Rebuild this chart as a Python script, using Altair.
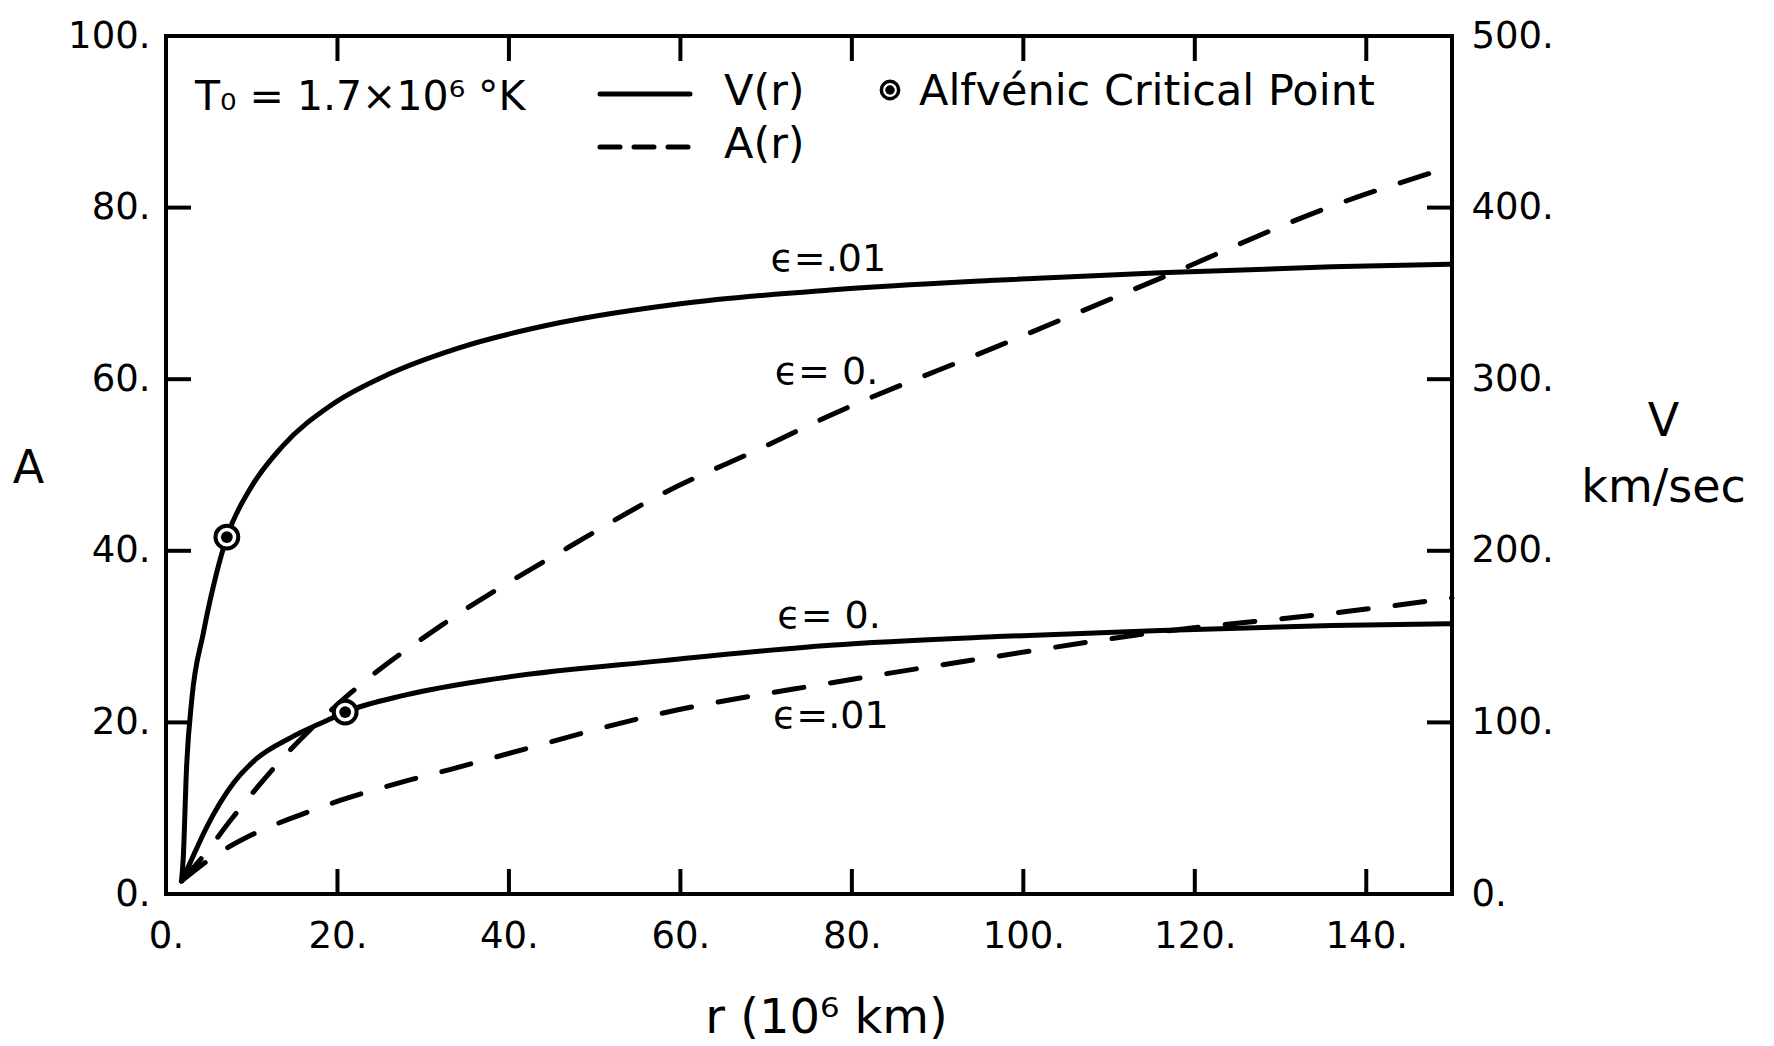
import altair as alt
import pandas as pd

FONT = "DejaVu Sans"
W, H = 1286, 858

# ---- data ----
# V(r) in km/sec (solid curves, right axis)
r_v_eps01 = [1.8, 2.0, 2.4, 3.0, 4.35, 5.9, 7.1, 9.8, 13.6, 19.3, 26.0, 34.0, 46.0, 60.0, 77.5, 96.0, 116.0, 136.0, 150.0]
v_eps01 = [7, 20, 74, 113, 152, 187, 208, 236, 261, 285, 303, 318, 333, 344, 352, 357.5, 362, 365.5, 367]
r_v_eps0 = [1.8, 2.8, 4.75, 7.85, 10.6, 14.5, 18.7, 20.9, 28.0, 38.6, 58.0, 77.5, 97.0, 116.0, 136.0, 150.0]
v_eps0 = [7, 18, 39, 64.5, 79, 91, 101, 106, 116, 125.5, 136, 145, 150, 153.5, 156.5, 157.5]

# A(r) (dashed curves, left axis)
r_a_eps0 = [1.8, 4.0, 7.85, 14.5, 21.5, 32.7, 47.1, 58.0, 69.7, 77.5, 96.9, 116.3, 135.8, 150.0]
a_eps0 = [1.5, 4.0, 9.0, 16.8, 23.4, 31.7, 40.5, 46.7, 52.1, 55.8, 63.8, 71.9, 80.1, 84.8]
r_a_eps01 = [1.8, 5.9, 10.0, 15.6, 20.3, 27.0, 33.1, 38.6, 58.0, 77.5, 96.9, 116.3, 135.8, 150.0]
a_eps01 = [1.5, 4.6, 6.9, 9.2, 10.9, 12.9, 14.5, 16.0, 21.1, 24.6, 27.7, 30.6, 32.7, 34.5]

# Alfvenic critical points (on the V curves)
crit_r = [7.1, 20.9]
crit_v = [208, 106]

# axis ticks
x_ticks = [0, 20, 40, 60, 80, 100, 120, 140]
a_ticks = [0, 20, 40, 60, 80, 100]
v_ticks = [0, 100, 200, 300, 400, 500]
x_inner = [20, 40, 60, 80, 100, 120, 140]
a_inner = [20, 40, 60, 80]

# curve labels (r, A)
lab_text = ["ϵ=.01", "ϵ= 0.", "ϵ= 0.", "ϵ=.01"]
lab_r = [70.5, 71.0, 71.3, 70.8]
lab_a = [73.9, 60.7, 32.3, 20.6]

# ---- tables ----
df_v = pd.DataFrame({
    "r": r_v_eps01 + r_v_eps0,
    "v": v_eps01 + v_eps0,
    "eps": [".01"] * len(r_v_eps01) + ["0"] * len(r_v_eps0),
})
df_a = pd.DataFrame({
    "r": r_a_eps0 + r_a_eps01,
    "a": a_eps0 + a_eps01,
    "eps": ["0"] * len(r_a_eps0) + [".01"] * len(r_a_eps01),
})
df_crit = pd.DataFrame({"r": crit_r, "v": crit_v})
df_lab = pd.DataFrame({"r": lab_r, "a": lab_a, "t": lab_text})
df_xt = pd.DataFrame({"r": x_inner})
df_yt = pd.DataFrame({"a": a_inner})
one = alt.InlineData(values=[{}])

LBL = 37

# ---- encodings ----
x_axis = alt.Axis(values=x_ticks, labelExpr="datum.value + '.'", labelFlush=False,
                  labelOverlap=False, ticks=False, domain=False, grid=False,
                  labelPadding=24, labelFontSize=LBL,
                  title="r (10⁶ km)", titleX=660, titleY=124, titleAlign="center",
                  titleBaseline="middle", titleFontSize=48)
X = alt.X("r:Q", scale=alt.Scale(domain=[0, 150], nice=False, zero=False), axis=x_axis)

ya_axis = alt.Axis(orient="left", values=a_ticks, labelExpr="datum.value + '.'",
                   labelOverlap=False, ticks=False, domain=False, grid=False,
                   labelPadding=16, labelFontSize=LBL,
                   title="A", titleAngle=0, titleX=-138, titleY=432, titleAlign="center",
                   titleBaseline="middle", titleFontSize=46)
YA = alt.Y("a:Q", scale=alt.Scale(domain=[0, 100], nice=False), axis=ya_axis)

yv_axis = alt.Axis(orient="right", values=v_ticks, labelExpr="datum.value + '.'",
                   labelOverlap=False, ticks=False, domain=False, grid=False,
                   labelPadding=19, labelFontSize=LBL,
                   title=["V", "km/sec"], titleAngle=0, titleX=211, titleY=385,
                   titleAlign="center", titleBaseline="middle", titleFontSize=46,
                   titleLineHeight=66)
YV = alt.Y("v:Q", scale=alt.Scale(domain=[0, 500], nice=False), axis=yv_axis)

TXT = 43
TICK = 25

# ---- A group (left scale) ----
a_lines = alt.Chart(df_a).mark_line(
    color="black", strokeWidth=5, strokeDash=[30, 27], strokeCap="round",
    interpolate="monotone"
).encode(x=X, y=YA, detail="eps:N")

left_ticks = alt.Chart(df_yt).mark_rule(color="black", strokeWidth=4).encode(
    y=YA, x=alt.value(0), x2=alt.value(TICK))
right_ticks = alt.Chart(df_yt).mark_rule(color="black", strokeWidth=4).encode(
    y=YA, x=alt.value(W - TICK), x2=alt.value(W))
bottom_ticks = alt.Chart(df_xt).mark_rule(color="black", strokeWidth=4).encode(
    x=X, y=alt.value(H - TICK), y2=alt.value(H))
top_ticks = alt.Chart(df_xt).mark_rule(color="black", strokeWidth=4).encode(
    x=X, y=alt.value(0), y2=alt.value(TICK))

curve_labels = alt.Chart(df_lab).mark_text(
    font=FONT, fontSize=38, align="left", baseline="middle", color="black"
).encode(x=X, y=YA, text="t:N")

t0_text = alt.Chart(one).mark_text(
    text="T₀ = 1.7×10⁶ °K", font=FONT, fontSize=41, align="left",
    baseline="middle", color="black"
).encode(x=alt.value(29), y=alt.value(62))

leg_solid = alt.Chart(one).mark_rule(color="black", strokeWidth=5, strokeCap="round").encode(
    x=alt.value(434), x2=alt.value(524), y=alt.value(58))
leg_dash = alt.Chart(one).mark_rule(color="black", strokeWidth=5, strokeCap="round",
                                    strokeDash=[20, 14]).encode(
    x=alt.value(434), x2=alt.value(524), y=alt.value(111))
leg_v = alt.Chart(one).mark_text(text="V(r)", font=FONT, fontSize=TXT, align="left",
                                 baseline="middle", color="black").encode(
    x=alt.value(558), y=alt.value(56))
leg_a = alt.Chart(one).mark_text(text="A(r)", font=FONT, fontSize=TXT, align="left",
                                 baseline="middle", color="black").encode(
    x=alt.value(558), y=alt.value(109))
leg_ring = alt.Chart(one).mark_point(shape="circle", size=300, fill="white", stroke="black",
                                     strokeWidth=3.5, opacity=1, fillOpacity=1).encode(
    x=alt.value(724), y=alt.value(54))
leg_dot = alt.Chart(one).mark_point(shape="circle", size=90, filled=True, color="black",
                                    opacity=1).encode(
    x=alt.value(724), y=alt.value(54))
leg_crit = alt.Chart(one).mark_text(text="Alfvénic Critical Point", font=FONT, fontSize=TXT,
                                    align="left", baseline="middle", color="black").encode(
    x=alt.value(753), y=alt.value(56))

a_group = alt.layer(a_lines, left_ticks, right_ticks, bottom_ticks, top_ticks,
                    curve_labels, t0_text, leg_solid, leg_dash, leg_v, leg_a,
                    leg_ring, leg_dot, leg_crit)

# ---- V group (right scale) ----
v_lines = alt.Chart(df_v).mark_line(
    color="black", strokeWidth=5, interpolate="monotone"
).encode(x=X, y=YV, detail="eps:N")
ring = alt.Chart(df_crit).mark_point(shape="circle", size=520, fill="white", stroke="black",
                                     strokeWidth=4, opacity=1, fillOpacity=1).encode(x=X, y=YV)
dot = alt.Chart(df_crit).mark_point(shape="circle", size=140, filled=True, color="black",
                                    opacity=1).encode(x=X, y=YV)
v_group = alt.layer(v_lines, ring, dot)

chart = alt.layer(a_group, v_group).resolve_scale(y="independent").properties(
    width=W, height=H,
    autosize=alt.AutoSizeParams(type="none"),
    padding={"left": 166, "top": 36, "right": 1774 - 166 - W, "bottom": 1046 - 36 - H},
    background="white",
).configure_view(stroke="black", strokeWidth=4).configure_axis(
    labelFont=FONT, titleFont=FONT, labelColor="black", titleColor="black",
    titleFontWeight="normal"
)

chart.save("out.html", embed_options={"renderer": "svg", "actions": False})
